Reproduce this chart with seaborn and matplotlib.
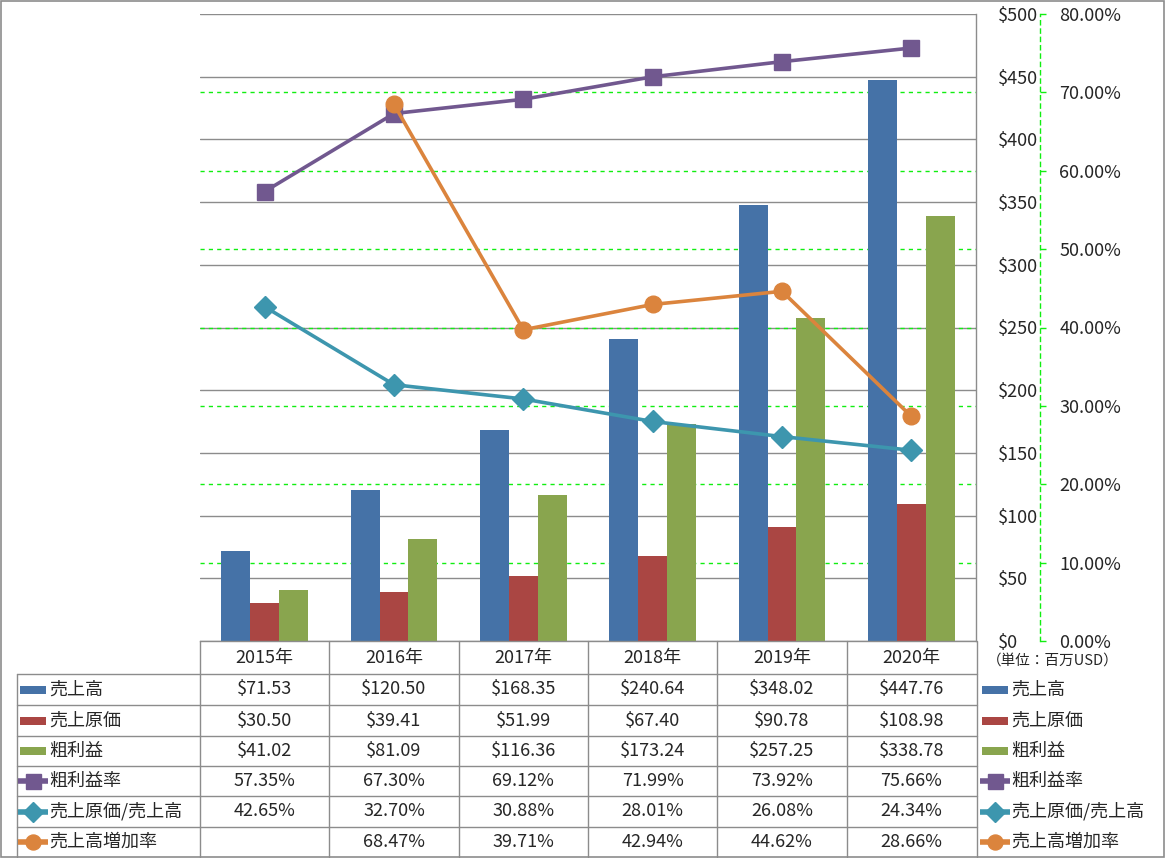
import numpy as np
import pandas as pd
import matplotlib
matplotlib.use('Agg')
import matplotlib.pyplot as plt
import matplotlib.transforms as mtransforms
from matplotlib.patches import Rectangle
import seaborn as sns

sns.set_theme(style='white')
plt.rcParams['font.family'] = ['Noto Sans CJK JP', 'DejaVu Sans']

# ------------------------------------------------------------
# データ
# ------------------------------------------------------------
years = ['2015年', '2016年', '2017年', '2018年', '2019年', '2020年']
bar_names = ['売上高', '売上原価', '粗利益']
sales = [71.53, 120.50, 168.35, 240.64, 348.02, 447.76]
cost = [30.50, 39.41, 51.99, 67.40, 90.78, 108.98]
gross = [41.02, 81.09, 116.36, 173.24, 257.25, 338.78]

line_names = ['粗利益率', '売上原価/売上高', '売上高増加率']
gross_rate = [57.35, 67.30, 69.12, 71.99, 73.92, 75.66]
cost_rate = [42.65, 32.70, 30.88, 28.01, 26.08, 24.34]
growth_rate = [None, 68.47, 39.71, 42.94, 44.62, 28.66]

bar_colors = ['#4572A7', '#AA4643', '#89A54E']
line_colors = ['#71588F', '#3D96AE', '#DB843D']
line_markers = ['s', 'D', 'o']
line_msize = [12, 11.5, 12]

GRID = '#8C8C8C'
GREEN = '#11EE11'
FS = 13

df = pd.DataFrame({
    '年': years * 3,
    '系列': [n for n in bar_names for _ in years],
    '値': sales + cost + gross,
})

# ------------------------------------------------------------
# 図
# ------------------------------------------------------------
W, H = 1165, 858
fig = plt.figure(figsize=(W / 100, H / 100), dpi=100)

ax = fig.add_axes([200 / W, 1 - 641 / H, 776 / W, 627 / H])
sns.barplot(data=df, x='年', y='値', hue='系列', hue_order=bar_names,
            palette=bar_colors, width=0.67, saturation=1, legend=False,
            linewidth=0, ax=ax, zorder=2)
ax.set_xlim(-0.5, len(years) - 0.5)
ax.set_ylim(0, 500)
ax.set_xticks([])
ax.set_xlabel('')
ax.set_ylabel('')
ax.set_facecolor('none')

ax2 = ax.twinx()
ax2.set_ylim(0, 0.8)

# 主軸 (右, $)
ax.yaxis.tick_right()
ax.set_yticks(np.arange(0, 501, 50))
ax.set_yticklabels([f'${v:.0f}' for v in np.arange(0, 501, 50)])
ax.tick_params(axis='y', length=0, pad=16, labelsize=FS)
ax.grid(axis='y', color=GRID, linewidth=1, linestyle='-')
ax.set_axisbelow(True)
for s in ['left', 'top']:
    ax.spines[s].set_visible(False)
ax.spines['right'].set_color(GRID)
ax.spines['bottom'].set_color(GRID)
ax.spines['right'].set_linewidth(1)
ax.spines['bottom'].set_linewidth(1)

# 第2軸 (%)
pct_ticks = np.arange(0, 0.81, 0.1)
ax2.set_yticks(pct_ticks)
ax2.set_yticklabels([f'{v * 100:.2f}%' for v in pct_ticks])
ax2.tick_params(axis='y', direction='out', length=4, width=1, color=GREEN,
                pad=10, labelsize=FS)
for s in ['left', 'top', 'bottom']:
    ax2.spines[s].set_visible(False)
ax2.spines['right'].set_position(('axes', 840 / 776))
ax2.spines['right'].set_color(GREEN)
ax2.spines['right'].set_linestyle((0, (3, 3)))
ax2.spines['right'].set_linewidth(1)
ax2.grid(False)

# 緑の補助グリッド (棒の背後)
blend = mtransforms.blended_transform_factory(ax.transAxes, ax2.transData)
for t in pct_ticks[1:-1]:
    ax.plot([0, 1], [t, t], transform=blend, color=GREEN, lw=1,
            ls=(0, (3, 3)), zorder=1)

# 折れ線
x = np.arange(len(years))
line_values = [gross_rate, cost_rate, growth_rate]
for vals, c, m, ms in zip(line_values, line_colors, line_markers, line_msize):
    v = np.array([np.nan if a is None else a / 100 for a in vals])
    ax2.plot(x, v, color=c, lw=2.6, marker=m, markersize=ms,
             markeredgecolor=c, clip_on=False, zorder=3)

# ------------------------------------------------------------
# データテーブル
# ------------------------------------------------------------
tax = fig.add_axes([0, 0, 1, 1], zorder=-1)
tax.set_xlim(0, W)
tax.set_ylim(H, 0)
tax.axis('off')

tx = mtransforms.blended_transform_factory(ax.transData, tax.transData)

# 外枠
tax.add_patch(Rectangle((0.5, 0.5), W - 1.5, H - 1.5, fill=False,
                        edgecolor=GRID, lw=1.2))

row_edges = [674, 705, 736, 766, 796, 827, 857]
row_centers = [(a + b) / 2 for a, b in zip(row_edges[:-1], row_edges[1:])]

lw_t = 1
# 横線
for yy in row_edges[:-1]:
    tax.plot([17, 977], [yy, yy], color=GRID, lw=lw_t)
# 縦線
tax.plot([17, 17], [674, 857], color=GRID, lw=lw_t)
for i in range(len(years)):
    tax.plot([i - 0.5, i - 0.5], [641, 857], color=GRID, lw=lw_t, transform=tx)
tax.plot([977, 977], [641, 857], color=GRID, lw=lw_t)

# 見出し
for i, yr in enumerate(years):
    tax.text(i, 658, yr, transform=tx, ha='center', va='center', fontsize=FS)
tax.text(1053, 661, '（単位：百万USD）', ha='center', va='center', fontsize=10.5)

# 値
rows = [
    [f'${v:.2f}' for v in sales],
    [f'${v:.2f}' for v in cost],
    [f'${v:.2f}' for v in gross],
    [f'{v:.2f}%' for v in gross_rate],
    [f'{v:.2f}%' for v in cost_rate],
    ['' if v is None else f'{v:.2f}%' for v in growth_rate],
]
for r, yc in zip(rows, row_centers):
    for i, s in enumerate(r):
        tax.text(i, yc, s, transform=tx, ha='center', va='center', fontsize=FS)


def legend_key(x0, yc, k):
    if k < 3:
        tax.add_patch(Rectangle((x0, yc - 4), 26, 8, color=bar_colors[k], lw=0))
    else:
        j = k - 3
        tax.plot([x0 - 2, x0 + 28], [yc, yc], color=line_colors[j], lw=4,
                 solid_capstyle='butt')
        tax.plot([x0 + 13], [yc], marker=line_markers[j], color=line_colors[j],
                 markersize=line_msize[j] * 0.9, markeredgecolor=line_colors[j])


all_names = bar_names + line_names
for k, (name, yc) in enumerate(zip(all_names, row_centers)):
    legend_key(20, yc, k)
    tax.text(49, yc, name, ha='left', va='center', fontsize=FS)
    legend_key(982, yc, k)
    tax.text(1011, yc, name, ha='left', va='center', fontsize=FS)

fig.savefig('out.png', dpi=100)
